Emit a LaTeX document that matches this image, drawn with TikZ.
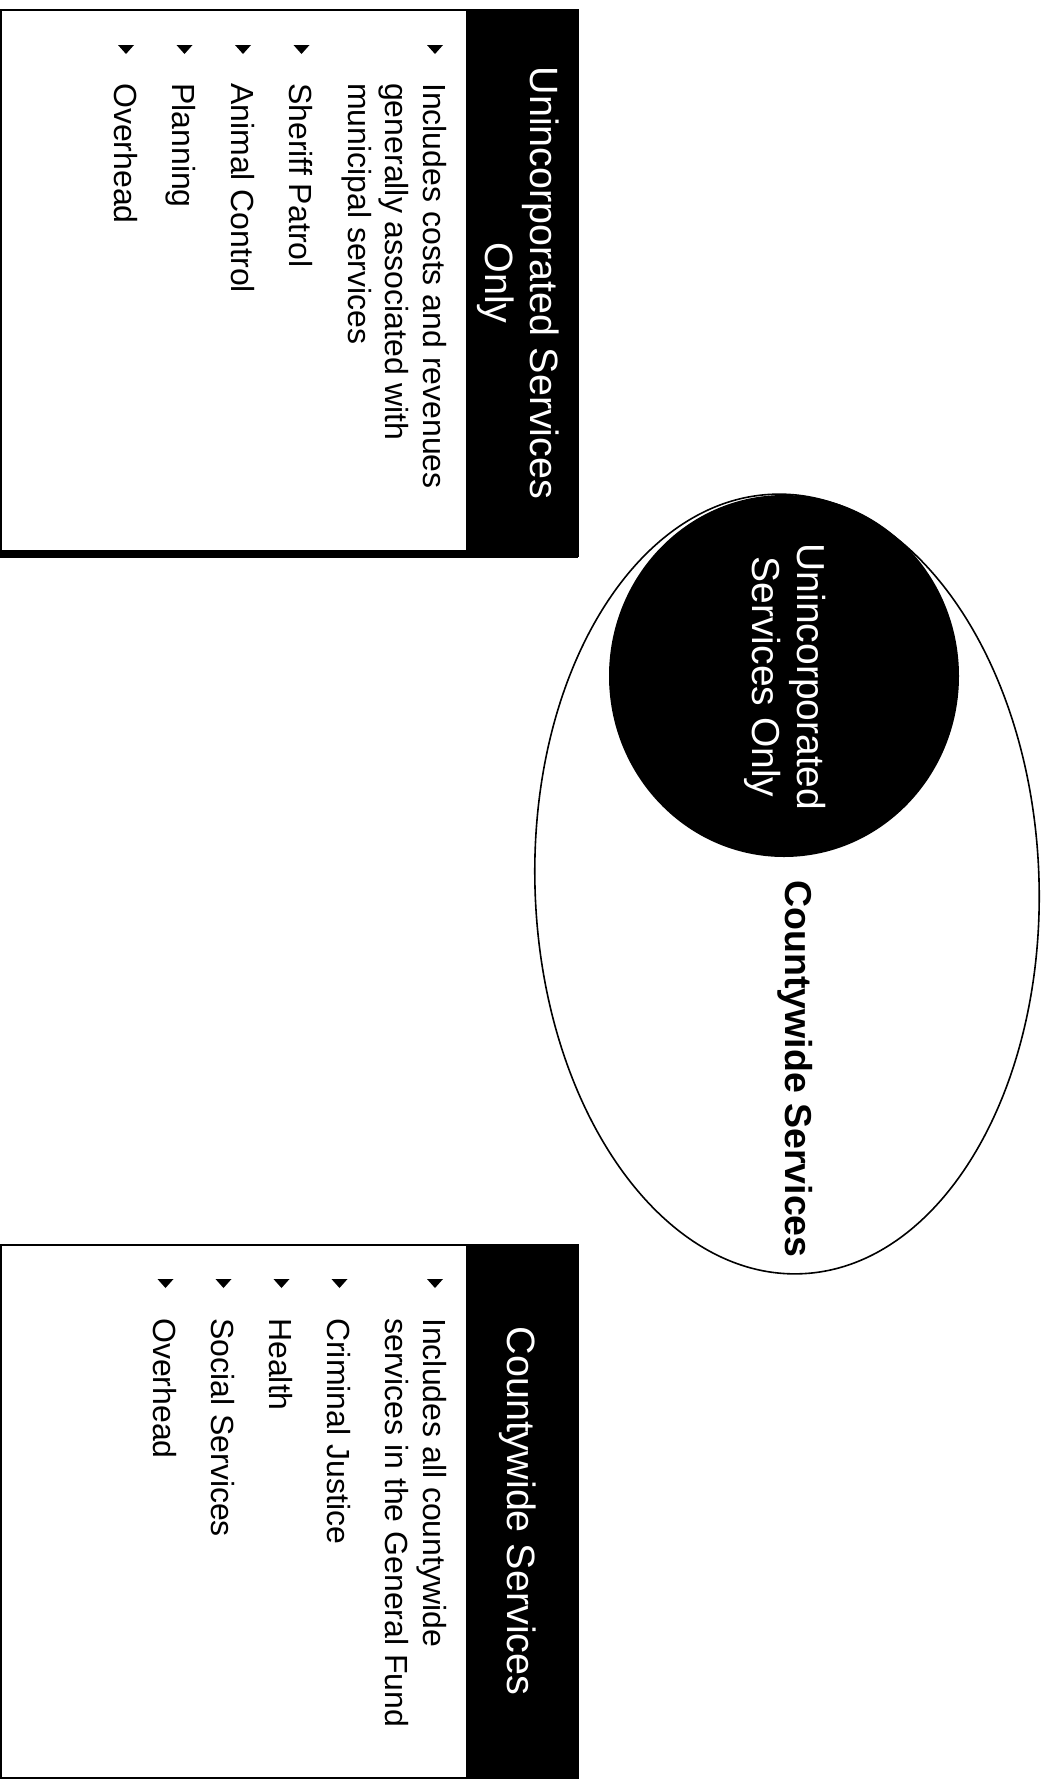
\documentclass[tikz,border=0pt]{standalone}
\usepackage{fontspec}
\setmainfont{Liberation Sans}
\begin{document}
\begin{tikzpicture}[x=1pt,y=-1pt,
  boxline/.style={draw=black,line width=2pt},
  band/.style={fill=black},
  hdr/.style={rotate=-90,anchor=base,inner sep=0pt,text=white,font=\fontsize{39.5}{45}\selectfont},
  itemtext/.style={rotate=-90,anchor=base west,inner sep=0pt,font=\fontsize{32}{37}\selectfont},
  ctext/.style={rotate=-90,anchor=base,inner sep=0pt,text=white,font=\fontsize{39}{45}\selectfont},
  cwtext/.style={rotate=-90,anchor=base,inner sep=0pt,font=\bfseries\fontsize{37.5}{42}\selectfont},
  bul/.style={fill=black}]
\useasboundingbox (0,0) rectangle (1048,1780);
\fill[white] (0,0) rectangle (1048,1780);
% ---------- top box ----------
\path[boxline] (1,10) rectangle (578,556);
\fill[band] (466,10) rectangle (578,556);
\fill[black] (0,550) rectangle (578,558);
\node[hdr] (uh1) at (530,283) {Unincorporated Services};
\node[hdr] (uh2) at (485,283) {Only};
\foreach \bx in {435,301.5,243,184.5,126}
  \fill[bul] (\bx-8,45) -- (\bx+8,45) -- (\bx,54) -- cycle;
\node[itemtext] (u1) at (423,83) {Includes costs and revenues};
\node[itemtext] (u2) at (385.5,83) {generally associated with};
\node[itemtext] (u3) at (348,83) {municipal services};
\node[itemtext] (u4) at (289.5,83) {Sheriff Patrol};
\node[itemtext] (u5) at (231,83) {Animal Control};
\node[itemtext] (u6) at (172.5,83) {Planning};
\node[itemtext] (u7) at (114,83) {Overhead};
% ---------- bottom box ----------
\path[boxline] (1,1245) rectangle (578,1778);
\fill[band] (466,1244) rectangle (578,1779);
\node[hdr] (ch) at (507,1511) {Countywide Services};
\foreach \bx in {435,339.5,281.5,223.5,165.5}
  \fill[bul] (\bx-8,1279) -- (\bx+8,1279) -- (\bx,1288) -- cycle;
\node[itemtext] (c1) at (423,1318) {Includes all countywide};
\node[itemtext] (c2) at (385.5,1318) {services in the General Fund};
\node[itemtext] (c3) at (327.5,1318) {Criminal Justice};
\node[itemtext] (c4) at (269.5,1318) {Health};
\node[itemtext] (c5) at (211.5,1318) {Social Services};
\node[itemtext] (c6) at (153.5,1318) {Overhead};
% ---------- ellipses ----------
\draw[line width=1.6pt,rotate around={2:(787,884)}] (787,884) ellipse [x radius=252pt, y radius=390pt];
\fill[black] (784,676) ellipse [x radius=175pt, y radius=181pt];
\node[ctext] (ci1) at (797,677) {Unincorporated};
\node[ctext] (ci2) at (752,677) {Services Only};
\node[cwtext] (cw) at (785,1069) {Countywide Services};
\end{tikzpicture}
\end{document}
